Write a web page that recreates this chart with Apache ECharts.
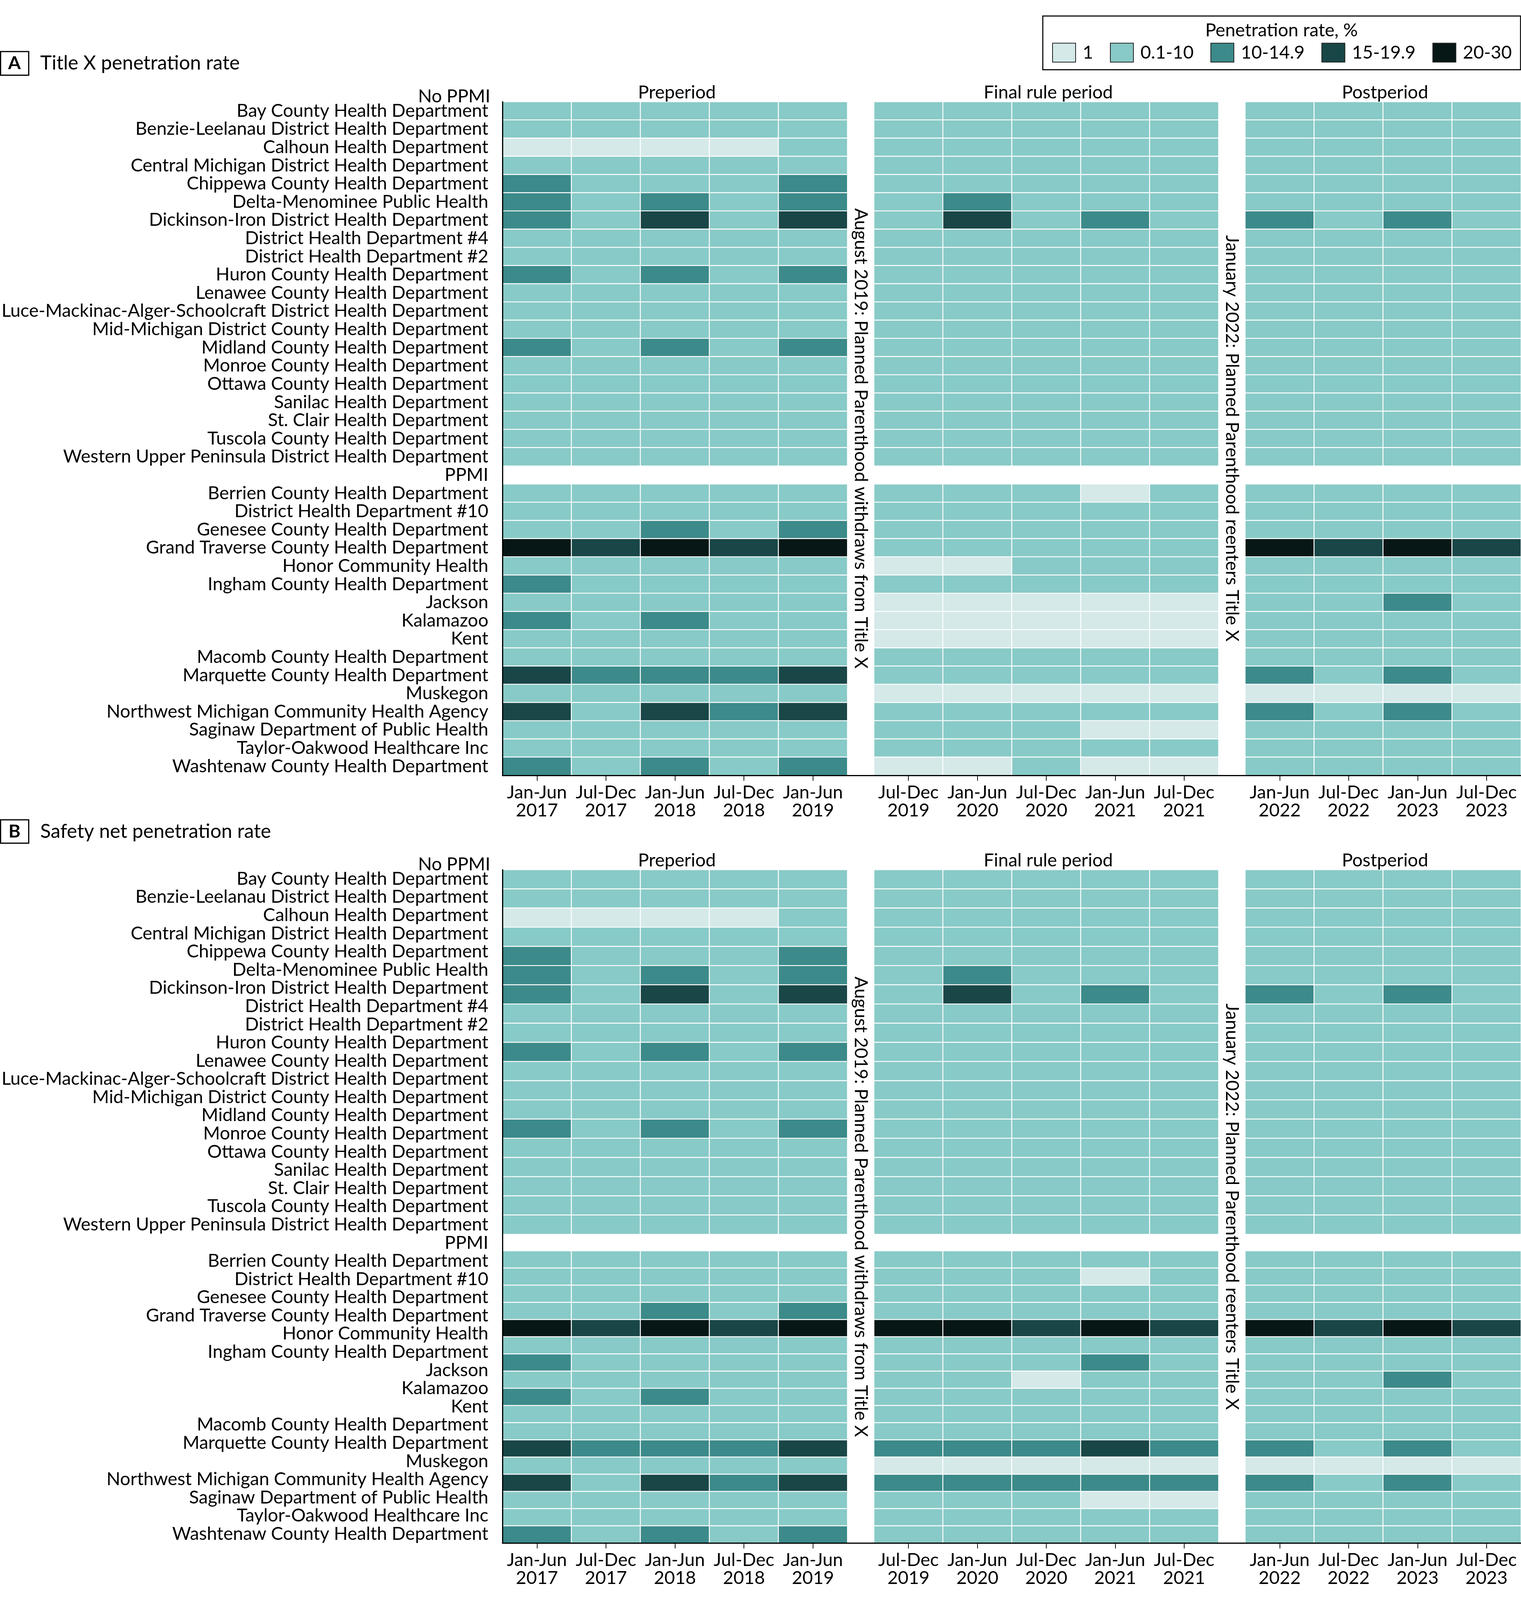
<!DOCTYPE html>
<html><head><meta charset="utf-8">
<style>html,body{margin:0;padding:0;background:#fff;overflow:hidden}#c{width:3893px}</style>
<script src="https://cdn.jsdelivr.net/npm/echarts@6/dist/echarts.min.js"></script>
</head><body><div id="c"></div>
<script>
const FONT = 'Lato,"Liberation Sans",sans-serif';
const FS = 46.5;
const noPpmiLabel = 'No PPMI';
const rowLabels = [
 'Bay County Health Department','Benzie-Leelanau District Health Department','Calhoun Health Department',
 'Central Michigan District Health Department','Chippewa County Health Department','Delta-Menominee Public Health',
 'Dickinson-Iron District Health Department','District Health Department #4','District Health Department #2',
 'Huron County Health Department','Lenawee County Health Department','Luce-Mackinac-Alger-Schoolcraft District Health Department',
 'Mid-Michigan District County Health Department','Midland County Health Department','Monroe County Health Department',
 'Ottawa County Health Department','Sanilac Health Department','St. Clair Health Department','Tuscola County Health Department',
 'Western Upper Peninsula District Health Department','PPMI','Berrien County Health Department','District Health Department #10',
 'Genesee County Health Department','Grand Traverse County Health Department','Honor Community Health','Ingham County Health Department',
 'Jackson','Kalamazoo','Kent','Macomb County Health Department','Marquette County Health Department','Muskegon',
 'Northwest Michigan Community Health Agency','Saginaw Department of Public Health','Taylor-Oakwood Healthcare Inc','Washtenaw County Health Department'];
const periodNames = ['Preperiod','Final rule period','Postperiod'];
const periodCols = [
 ['Jan-Jun\n2017','Jul-Dec\n2017','Jan-Jun\n2018','Jul-Dec\n2018','Jan-Jun\n2019'],
 ['Jul-Dec\n2019','Jan-Jun\n2020','Jul-Dec\n2020','Jan-Jun\n2021','Jul-Dec\n2021'],
 ['Jan-Jun\n2022','Jul-Dec\n2022','Jan-Jun\n2023','Jul-Dec\n2023']];
const binLabels = ['1','0.1-10','10-14.9','15-19.9','20-30'];
const binColors = ['#D5E9E9','#88CAC7','#3C8A8A','#194647','#071716'];
// bin index per half-year column; a short string per row (index into binLabels)
const rowsA = [
 '11111111111111','11111111111111','00001111111111','11111111111111','21112111111111','21212121111111',
 '21313131212121','11111111111111','11111111111111','21212111111111','11111111111111','11111111111111',
 '11111111111111','21212111111111','11111111111111','11111111111111','11111111111111','11111111111111',
 '11111111111111','11111111111111','--------------','11111111011111','11111111111111','11212111111111',
 '43434111114343','11111001111111','21111111111111','11111000001121','21211000001111','11111000001111',
 '11111111111111','32223111112121','11111000000000','31323111112121','11111111001111','11111111111111',
 '21212001001111'];
const rowsBUpper = [
 '11111111111111','11111111111111','00001111111111','11111111111111','21112111111111','21212121111111',
 '21313131212121','11111111111111','11111111111111','21212111111111','11111111111111','11111111111111',
 '11111111111111','21212111111111','11111111111111','11111111111111','11111111111111','11111111111111',
 '11111111111111'];
const rowsBLower = [
 '11111111111111','11111111011111','11111111111111','11212111111111','43434443434343','11111111111111',
 '21111111211111','11111110111121','21211111111111','11111111111111','11111111111111','32223222322121',
 '11111000000000','31323222222121','11111111001111','11111111111111','21212111111111'];

// layout: reference coordinates for a 5000 px tall page, fitted to the real window height
const H = Math.min(5000, window.innerHeight || 5000), sy = H / 5000;
const Y = v => v * sy;
document.getElementById('c').style.height = H + 'px';
const colX = [[1286,2169],[2237,3119],[3187,3893]];
const X0 = 1286, X1 = 3893;
const grids=[], xAxes=[], yAxes=[], series=[], titles=[];
const axisFont = {fontFamily:FONT,fontSize:FS,color:'#000'};

function frame(top,bottom){
  const g=grids.length;
  grids.push({left:X0,width:X1-X0,top:Y(top),height:Y(bottom-top),outerBoundsMode:'none'});
  xAxes.push({gridIndex:g,type:'category',z:10,data:['x'],axisLine:{show:true,onZero:false,lineStyle:{color:'#000',width:3}},axisTick:{show:false},axisLabel:{show:false},splitLine:{show:false}});
  yAxes.push({gridIndex:g,type:'category',z:10,inverse:true,data:rowLabels,axisLine:{show:true,onZero:false,lineStyle:{color:'#000',width:3}},axisTick:{show:false},
    axisLabel:{...axisFont,margin:36,interval:0},splitLine:{show:false}});
}
function cells(rows,top,height,showX){
  let off=0;
  periodCols.forEach((cols,p)=>{
    const g=grids.length;
    grids.push({left:colX[p][0],width:colX[p][1]-colX[p][0],top:Y(top),height:Y(height),outerBoundsMode:'none'});
    xAxes.push({gridIndex:g,type:'category',data:cols,axisLine:{show:false,onZero:false},
      axisTick:{show:showX,alignWithLabel:true,length:Y(17),lineStyle:{color:'#111',width:2}},
      axisLabel:{show:showX,interval:0,...axisFont,lineHeight:Y(56),margin:Y(26)},splitLine:{show:false}});
    yAxes.push({gridIndex:g,type:'category',inverse:true,show:false,data:rows.map((_,i)=>i)});
    const data=[];
    rows.forEach((r,y)=>cols.forEach((_,x)=>{const c=r[off+x]; if(c!=='-')data.push([x,y,+c]);}));
    series.push({type:'heatmap',xAxisIndex:g,yAxisIndex:g,data,itemStyle:{borderColor:'#fff',borderWidth:2.4},emphasis:{disabled:true},silent:true,progressive:0});
    off+=cols.length;
  });
}
function headers(y,yNo){
  periodNames.forEach((t,p)=>titles.push({text:t,left:(colX[p][0]+colX[p][1])/2,top:Y(y),textAlign:'center',textVerticalAlign:'middle',textStyle:{...axisFont,fontWeight:'normal'}}));
  titles.push({text:noPpmiLabel,left:1250,top:Y(yNo),textAlign:'right',textVerticalAlign:'middle',textStyle:{...axisFont,fontWeight:'normal'}});
}
// Panel A
frame(318,2423);
cells(rowsA,318,2105,true);
headers(283,296);
// Panel B: its cell rows are not evenly spaced against the labels (19 taller rows, a gap, 17 shorter rows)
frame(2718,4822);
cells(rowsBUpper,2718,1139,false);
cells(rowsBLower,3909,913,true);
headers(2683,2695);

const g=[];
function panelTag(letter,title,y0,y1){
  g.push({type:'rect',shape:{x:1.5,y:Y(y0),width:72,height:Y(y1-y0)},style:{fill:'#fff',stroke:'#000',lineWidth:3}});
  g.push({type:'text',x:37,y:Y((y0+y1)/2),style:{text:letter,font:'bold '+FS+'px '+FONT,fill:'#000',align:'center',verticalAlign:'middle'}});
  g.push({type:'text',x:103,y:Y((y0+y1)/2),style:{text:title,font:'50px '+FONT,fill:'#000',align:'left',verticalAlign:'middle'}});
}
panelTag('A','Title X penetration rate',161,235);
panelTag('B','Safety net penetration rate',2562,2635);
const note1='August 2019: Planned Parenthood withdraws from Title X', note2='January 2022: Planned Parenthood reenters Title X';
function vnote(t,x,y){g.push({type:'text',x,y:Y(y),rotation:-Math.PI/2,style:{text:t,font:FS+'px '+FONT,fill:'#000',align:'center',verticalAlign:'middle'}});}
vnote(note1,2203,1370);vnote(note1,2203,3771);
vnote(note2,3153,1370);vnote(note2,3153,3771);
// legend frame, title and outlines of the visualMap swatches
g.push({type:'rect',shape:{x:2669,y:Y(50),width:1223,height:Y(168)},style:{fill:'none',stroke:'#111',lineWidth:3},z:-1});
g.push({type:'text',x:3280,y:Y(95),style:{text:'Penetration rate, %',font:FS+'px '+FONT,fill:'#000',align:'center',verticalAlign:'middle'}});
const LG={left:2694,size:59,textGap:18,gap:44};
const mc=document.createElement('canvas').getContext('2d'); mc.font=FS+'px '+FONT;
let lx=LG.left;
binLabels.forEach(t=>{
  g.push({type:'rect',z:20,silent:true,shape:{x:lx,y:Y(135),width:LG.size,height:Y(59)},style:{fill:'none',stroke:'#222',lineWidth:2}});
  lx+=LG.size+LG.textGap+mc.measureText(t).width+LG.gap;
});

const option={
  animation:false,backgroundColor:'#fff',title:titles,grid:grids,xAxis:xAxes,yAxis:yAxes,series,graphic:g,
  visualMap:{type:'piecewise',orient:'horizontal',left:LG.left,top:Y(135),itemWidth:LG.size,itemHeight:Y(59),itemGap:LG.gap,textGap:LG.textGap,itemSymbol:'rect',
    selectedMode:false,hoverLink:false,showLabel:true,padding:0,textStyle:{...axisFont},
    seriesIndex:series.map((_,i)=>i),
    pieces:binLabels.map((label,i)=>({value:i,label,color:binColors[i]}))}
};
document.fonts.load(FS+'px Lato').finally(()=>{
  echarts.init(document.getElementById('c'),null,{renderer:'canvas',width:3893,height:H}).setOption(option);
});
</script></body></html>
